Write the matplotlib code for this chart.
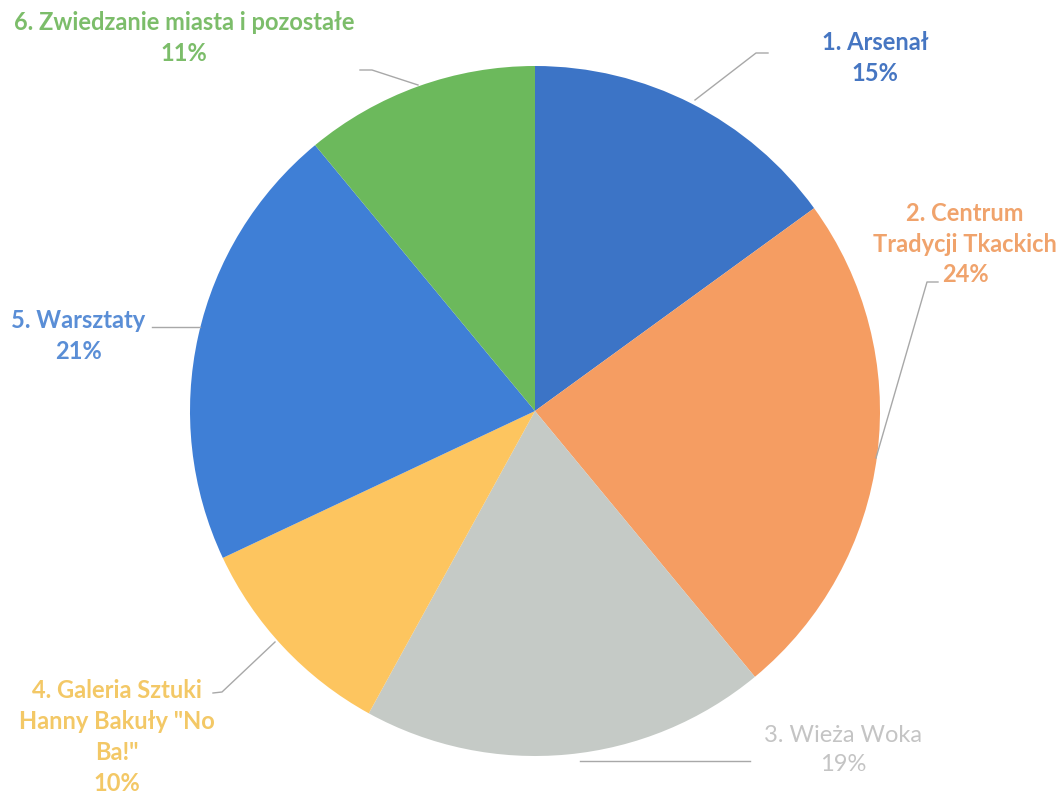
import numpy as np
import matplotlib.pyplot as plt

W, H = 1061, 793

labels = ['1. Arsenał', '2. Centrum\nTradycji Tkackich', '3. Wieża Woka',
          '4. Galeria Sztuki\nHanny Bakuły "No\nBa!"', '5. Warsztaty',
          '6. Zwiedzanie miasta i pozostałe']
values = [15, 24, 19, 10, 21, 11]
colors = ['#3c74c6', '#f59d62', '#c5cac6', '#fdc55f', '#3f7fd6', '#6cb95c']
text_colors = ['#4676c2', '#f0a36c', '#c4c4c4', '#f3c866', '#5a8ed6', '#7cbd6a']
weights = ['bold', 'bold', 'normal', 'bold', 'bold', 'bold']

# label centres (pixels, top-left origin) and leader lines
label_pos = [(875, 58), (965, 244), (843, 750), (117, 737), (78, 336), (184, 38)]
leaders = [
    [(768, 53), (756, 53), (695, 100)],
    [(938, 282), (927, 282), (876, 458)],
    [(750, 761), (580, 761)],
    [(213, 693), (222, 692), (275, 642)],
    [(152, 327), (200, 327)],
    [(360, 70), (372, 70), (418, 85)],
]

cx, cy, r = 535, 411, 345

fig = plt.figure(figsize=(W / 100, H / 100), dpi=100)
ax = fig.add_axes([0, 0, 1, 1])

ax.pie(values, colors=colors, startangle=90, counterclock=False,
       center=(cx, H - cy), radius=r, wedgeprops=dict(linewidth=0))

for pts in leaders:
    xs = [p[0] for p in pts]
    ys = [H - p[1] for p in pts]
    ax.plot(xs, ys, color='#a8a8a8', lw=1.0)

for lab, v, (x, y), c, w in zip(labels, values, label_pos, text_colors, weights):
    ax.text(x, H - y, f'{lab}\n{v}%', ha='center', va='center', color=c,
            fontsize=17, fontweight=w, family='Lato', linespacing=1.42)

ax.set_xlim(0, W)
ax.set_ylim(0, H)
ax.set_aspect('auto')
ax.axis('off')

fig.savefig('out.png', dpi=100, facecolor='white')
